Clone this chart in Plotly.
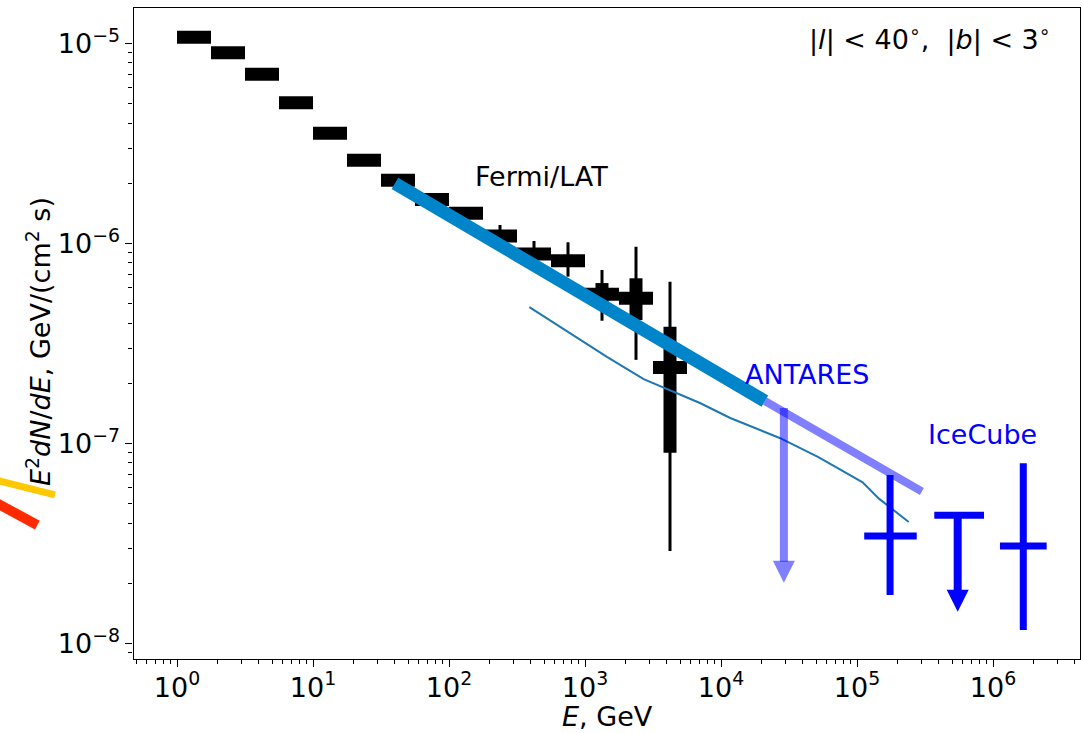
import math
import plotly.graph_objects as go

# ---- Fermi/LAT diffuse emission, |l| < 40 deg, |b| < 3 deg ----
fermi_e_lo = [1.0, 1.778, 3.162, 5.623, 10.0, 17.78, 31.62, 56.23, 100.0, 177.8,
              316.2, 562.3, 1000.0, 1778.0, 3162.0]
fermi_e_hi = [1.778, 3.162, 5.623, 10.0, 17.78, 31.62, 56.23, 100.0, 177.8, 316.2,
              562.3, 1000.0, 1778.0, 3162.0, 5623.0]
fermi_flux = [1.074e-5, 9.0e-6, 7.02e-6, 5.06e-6, 3.56e-6, 2.61e-6, 2.07e-6, 1.66e-6,
              1.416e-6, 1.09e-6, 8.86e-7, 8.2e-7, 5.58e-7, 5.32e-7, 2.40e-7]
fermi_stat_up = [2.0e-7, 1.6e-7, 1.3e-7, 1.0e-7, 7.0e-8, 5.0e-8, 4.0e-8, 3.5e-8,
                 3.5e-8, 4.0e-8, 4.0e-8, 5.0e-8, 7.6e-8, 1.38e-7, 1.44e-7]
fermi_stat_dn = [2.0e-7, 1.6e-7, 1.3e-7, 1.0e-7, 7.0e-8, 5.0e-8, 4.0e-8, 3.5e-8,
                 3.5e-8, 4.0e-8, 4.0e-8, 5.0e-8, 6.5e-8, 1.18e-7, 1.5e-7]
fermi_tot_up = [4.0e-7, 3.2e-7, 2.6e-7, 2.0e-7, 1.4e-7, 1.0e-7, 8.0e-8, 7.0e-8,
                7.0e-8, 1.47e-7, 1.43e-7, 1.94e-7, 1.79e-7, 4.32e-7, 4.04e-7]
fermi_tot_dn = [4.0e-7, 3.2e-7, 2.6e-7, 2.0e-7, 1.4e-7, 1.0e-7, 8.0e-8, 7.0e-8,
                7.0e-8, 1.3e-7, 1.3e-7, 1.37e-7, 1.47e-7, 2.7e-7, 2.11e-7]

# ---- power-law fit to the Fermi data and its extrapolation ----
fit_e = [40.0, 2.1e4]
fit_flux = [2.0e-6, 1.63e-7]
ext_e = [2.1e4, 3.0e5]
ext_flux = [1.63e-7, 5.75e-8]

# ---- model curve ----
model_e = [390.0, 1450.0, 2700.0, 7000.0, 1.17e4, 2.7e4, 5.2e4, 1.1e5, 1.45e5, 2.4e5]
model_flux = [4.81e-7, 2.71e-7, 2.10e-7, 1.594e-7, 1.341e-7, 1.066e-7, 8.56e-8,
              6.4e-8, 5.3e-8, 4.05e-8]

# ---- ANTARES upper limit ----
antares_e = 2.9e4
antares_top = 1.505e-7
antares_base = 2.565e-8
antares_tip = 2.01e-8

# ---- IceCube measurements ----
ic_e = [1.75e5, 1.67e6]
ic_e_lo = [1.13e5, 1.125e6]
ic_e_hi = [2.75e5, 2.48e6]
ic_flux = [3.45e-8, 3.07e-8]
ic_flux_hi = [6.96e-8, 7.96e-8]
ic_flux_lo = [1.748e-8, 1.168e-8]
# IceCube upper limit
icul_e = 5.5e5
icul_e_lo = 3.7e5
icul_e_hi = 8.59e5
icul_flux = 4.38e-8
icul_base = 1.851e-8
icul_tip = 1.442e-8

# ---- low-energy segments (drawn past the left edge of the axes) ----
yellow_e = [0.04, 0.1267]
yellow_flux = [6.74e-8, 5.53e-8]
red_e = [0.04, 0.094]
red_flux = [5.35e-8, 3.91e-8]

# ---- tick labels ----
x_tickvals = [1, 10, 100, 1e3, 1e4, 1e5, 1e6]
x_ticktext = ["10<sup>0</sup>", "10<sup>1</sup>", "10<sup>2</sup>", "10<sup>3</sup>",
              "10<sup>4</sup>", "10<sup>5</sup>", "10<sup>6</sup>"]
y_tickvals = [1e-8, 1e-7, 1e-6, 1e-5]
y_ticktext = ["10<sup>\u22128</sup>", "10<sup>\u22127</sup>", "10<sup>\u22126</sup>",
              "10<sup>\u22125</sup>"]

W, H = 1082, 733
FONT = "DejaVu Sans"
FS = 27
BLUE = "#0000FF"
HALF_BLUE = "rgba(0,0,255,0.5)"
FIT_BLUE = "#0084CA"
MODEL_BLUE = "#1F77B4"

# axes box in pixels
ax_l, ax_r, ax_t, ax_b = 133.5, 1080.0, 7.5, 659.0
x_log_range = [-0.3199, 6.6397]
y_log_range = [-8.0775, -4.82]
px_per_dec = (ax_r - ax_l) / (x_log_range[1] - x_log_range[0])

fig = go.Figure()

# Fermi/LAT: thin total-error bars
fx = [math.sqrt(a * b) for a, b in zip(fermi_e_lo, fermi_e_hi)]
fig.add_trace(go.Scatter(
    x=fx, y=fermi_flux, mode="markers",
    marker=dict(size=1, color="black"),
    error_y=dict(type="data", symmetric=False, array=fermi_tot_up,
                 arrayminus=fermi_tot_dn, thickness=3, width=0, color="black"),
    showlegend=False, hoverinfo="skip"))
# Fermi/LAT: thick bins and statistical errors
fig.add_trace(go.Scatter(
    x=fx, y=fermi_flux, mode="markers",
    marker=dict(size=1, color="black"),
    error_x=dict(type="data", symmetric=False,
                 array=[h - c for h, c in zip(fermi_e_hi, fx)],
                 arrayminus=[c - l for l, c in zip(fermi_e_lo, fx)],
                 thickness=13, width=0, color="black"),
    error_y=dict(type="data", symmetric=False, array=fermi_stat_up,
                 arrayminus=fermi_stat_dn, thickness=13, width=0, color="black"),
    showlegend=False, hoverinfo="skip"))

# model curve
fig.add_trace(go.Scatter(x=model_e, y=model_flux, mode="lines",
                         line=dict(color=MODEL_BLUE, width=2),
                         showlegend=False, hoverinfo="skip"))
# fit
fig.add_trace(go.Scatter(x=fit_e, y=fit_flux, mode="lines",
                         line=dict(color=FIT_BLUE, width=13),
                         showlegend=False, hoverinfo="skip"))
# extrapolation
fig.add_trace(go.Scatter(x=ext_e, y=ext_flux, mode="lines",
                         line=dict(color=HALF_BLUE, width=8),
                         showlegend=False, hoverinfo="skip"))

# ANTARES upper-limit arrow
fig.add_trace(go.Scatter(x=[antares_e, antares_e], y=[antares_top, antares_base],
                         mode="lines", line=dict(color=HALF_BLUE, width=8),
                         showlegend=False, hoverinfo="skip"))
fig.add_trace(go.Scatter(x=[antares_e], y=[antares_tip], mode="markers",
                         marker=dict(symbol="arrow-down", size=22, color=HALF_BLUE,
                                     line=dict(width=0)),
                         showlegend=False, hoverinfo="skip"))

# IceCube points
fig.add_trace(go.Scatter(
    x=ic_e, y=ic_flux, mode="markers", marker=dict(size=1, color=BLUE),
    error_x=dict(type="data", symmetric=False,
                 array=[h - c for h, c in zip(ic_e_hi, ic_e)],
                 arrayminus=[c - l for l, c in zip(ic_e_lo, ic_e)],
                 thickness=7, width=0, color=BLUE),
    error_y=dict(type="data", symmetric=False,
                 array=[h - c for h, c in zip(ic_flux_hi, ic_flux)],
                 arrayminus=[c - l for l, c in zip(ic_flux_lo, ic_flux)],
                 thickness=7, width=0, color=BLUE),
    showlegend=False, hoverinfo="skip"))
# IceCube upper limit
fig.add_trace(go.Scatter(
    x=[icul_e], y=[icul_flux], mode="markers", marker=dict(size=1, color=BLUE),
    error_x=dict(type="data", symmetric=False, array=[icul_e_hi - icul_e],
                 arrayminus=[icul_e - icul_e_lo], thickness=7, width=0, color=BLUE),
    showlegend=False, hoverinfo="skip"))
fig.add_trace(go.Scatter(x=[icul_e, icul_e], y=[icul_flux, icul_base], mode="lines",
                         line=dict(color=BLUE, width=8),
                         showlegend=False, hoverinfo="skip"))
fig.add_trace(go.Scatter(x=[icul_e], y=[icul_tip], mode="markers",
                         marker=dict(symbol="arrow-down", size=22, color=BLUE,
                                     line=dict(width=0)),
                         showlegend=False, hoverinfo="skip"))

# low-energy segments on an auxiliary x axis spanning the left margin
fig.add_trace(go.Scatter(x=yellow_e, y=yellow_flux, mode="lines",
                         line=dict(color="#FFC800", width=7),
                         xaxis="x2", yaxis="y", showlegend=False, hoverinfo="skip"))
fig.add_trace(go.Scatter(x=red_e, y=red_flux, mode="lines",
                         line=dict(color="#FF2A00", width=10),
                         xaxis="x2", yaxis="y", showlegend=False, hoverinfo="skip"))

minor_x = [m * 10.0 ** k for k in range(-1, 7) for m in range(2, 10)]
minor_y = [m * 10.0 ** k for k in range(-9, -4) for m in range(2, 10)]

axis_common = dict(
    type="log", showline=True, linecolor="black", linewidth=1.2, mirror=True,
    showgrid=False, zeroline=False, ticks="outside", ticklen=7, tickwidth=1.2,
    tickcolor="black", automargin=False,
    tickfont=dict(family=FONT, size=FS, color="black"),
)

fig.update_layout(
    width=W, height=H,
    margin=dict(l=0, r=0, t=0, b=0),
    paper_bgcolor="white", plot_bgcolor="rgba(0,0,0,0)",
    font=dict(family=FONT, size=FS, color="black"),
    xaxis=dict(
        **axis_common,
        domain=[ax_l / W, ax_r / W], range=x_log_range,
        tickmode="array", tickvals=x_tickvals, ticktext=x_ticktext,
        ticklabelstandoff=-3,
        minor=dict(tickmode="array", tickvals=minor_x, ticks="outside", ticklen=4,
                   tickwidth=1, tickcolor="black"),
        anchor="y",
    ),
    yaxis=dict(
        **axis_common,
        domain=[1 - ax_b / H, 1 - ax_t / H], range=y_log_range,
        tickmode="array", tickvals=y_tickvals, ticktext=y_ticktext,
        minor=dict(tickmode="array", tickvals=minor_y, ticks="outside", ticklen=4,
                   tickwidth=1, tickcolor="black"),
        anchor="x",
    ),
    xaxis2=dict(
        type="log", domain=[0, ax_r / W],
        range=[x_log_range[0] - ax_l / px_per_dec, x_log_range[1]],
        visible=False, anchor="y", showgrid=False, zeroline=False,
    ),
)

ann = [
    dict(text="Fermi/LAT", x=math.log10(475), y=math.log10(2.17e-6), xref="x", yref="y",
         font=dict(color="black")),
    dict(text="ANTARES", x=math.log10(4.29e4), y=-6.6525, xref="x", yref="y",
         font=dict(color=BLUE)),
    dict(text="IceCube", x=5.926, y=-6.9525, xref="x", yref="y",
         font=dict(color=BLUE)),
    dict(text="|<i>l</i>| < 40<sup>\u2218</sup>,  |<i>b</i>| < 3<sup>\u2218</sup>",
         x=1053 / W, y=1 - 38 / H, xref="paper", yref="paper",
         xanchor="right", yanchor="middle"),
    dict(text="<i>E</i>, GeV", x=607 / W, y=1 - 716 / H, xref="paper", yref="paper"),
    dict(text="<i>E</i><sup>2</sup><i>dN</i>/<i>dE</i>, GeV/(cm<sup>2</sup> s)",
         x=38 / W, y=1 - 342 / H, xref="paper", yref="paper", textangle=-90),
]
for a in ann:
    a.setdefault("showarrow", False)
    a.setdefault("xanchor", "center")
    a.setdefault("yanchor", "middle")
    fig.add_annotation(**a)

fig.write_html("out.html")
